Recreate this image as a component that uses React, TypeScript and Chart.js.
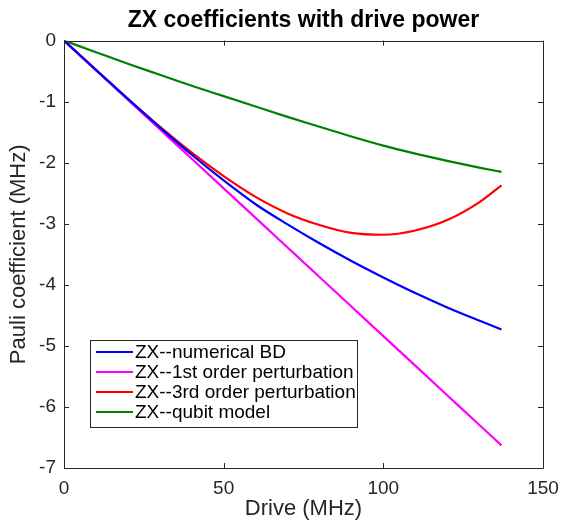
import React, { useEffect, useRef } from "react";
import { Chart, registerables } from "chart.js";

Chart.register(...registerables);

const drive = [0, 10, 20, 30, 40, 50, 60, 70, 80, 90, 100, 110, 120, 130, 137];
const numericalBD = [0, -0.48, -0.955, -1.42, -1.87, -2.29, -2.68, -3.01, -3.32, -3.61, -3.88, -4.135, -4.37, -4.585, -4.73];
const firstOrder = [0, -0.484, -0.968, -1.452, -1.936, -2.42, -2.904, -3.388, -3.872, -4.356, -4.84, -5.324, -5.808, -6.292, -6.63];
const thirdOrder = [0, -0.48, -0.955, -1.41, -1.835, -2.22, -2.56, -2.83, -3.02, -3.15, -3.18, -3.11, -2.94, -2.65, -2.37];
const qubitModel = [0, -0.19, -0.38, -0.56, -0.74, -0.91, -1.08, -1.25, -1.41, -1.57, -1.72, -1.85, -1.97, -2.08, -2.15];

const seriesLabels = [
  "ZX--numerical BD",
  "ZX--1st order perturbation",
  "ZX--3rd order perturbation",
  "ZX--qubit model",
];
const seriesColors = ["#0000ff", "#ff00ff", "#ff0000", "#008000"];
const xTicks = [0, 50, 100, 150];
const yTicks = [0, -1, -2, -3, -4, -5, -6, -7];

const FONT = "'Liberation Sans', Arial, Helvetica, sans-serif";
const AXIS = "#262626";

const boxAndLegend = {
  id: "boxAndLegend",
  afterDraw(chart: any) {
    const { ctx, chartArea } = chart;
    const { left, right, top, bottom } = chartArea;
    const xs = chart.scales.x;
    const ys = chart.scales.y;
    ctx.save();
    ctx.strokeStyle = AXIS;
    ctx.lineWidth = 1;
    ctx.beginPath();
    ctx.rect(Math.round(left) + 0.5, Math.round(top) + 0.5, Math.round(right - left), Math.round(bottom - top));
    ctx.stroke();
    const tl = 5;
    ctx.beginPath();
    for (const v of xTicks) {
      const px = Math.round(xs.getPixelForValue(v)) + 0.5;
      ctx.moveTo(px, bottom);
      ctx.lineTo(px, bottom - tl);
      ctx.moveTo(px, top);
      ctx.lineTo(px, top + tl);
    }
    for (const v of yTicks) {
      const py = Math.round(ys.getPixelForValue(v)) + 0.5;
      ctx.moveTo(left, py);
      ctx.lineTo(left + tl, py);
      ctx.moveTo(right, py);
      ctx.lineTo(right - tl, py);
    }
    ctx.stroke();

    // legend
    const lx = 90.5, ly = 340.5, lw = 267, lh = 87;
    ctx.fillStyle = "#ffffff";
    ctx.fillRect(lx, ly, lw, lh);
    ctx.strokeStyle = AXIS;
    ctx.strokeRect(lx, ly, lw, lh);
    ctx.font = `19px ${FONT}`;
    ctx.textBaseline = "middle";
    ctx.textAlign = "left";
    chart.data.datasets.forEach((ds: any, i: number) => {
      const cy = 352 + i * 20;
      ctx.strokeStyle = ds.borderColor;
      ctx.lineWidth = 2.2;
      ctx.beginPath();
      ctx.moveTo(96, cy);
      ctx.lineTo(133, cy);
      ctx.stroke();
      ctx.fillStyle = "#000000";
      ctx.fillText(ds.label, 135, cy + 1);
    });
    ctx.restore();
  },
};

export default function App() {
  const ref = useRef<HTMLCanvasElement>(null);
  useEffect(() => {
    if (!ref.current) return;
    const allSeries = [numericalBD, firstOrder, thirdOrder, qubitModel];
    const chart = new Chart(ref.current, {
      type: "line",
      data: {
        datasets: allSeries.map((arr, i) => ({
          label: seriesLabels[i],
          data: drive.map((d, j) => ({ x: d, y: arr[j] })),
          borderColor: seriesColors[i],
          backgroundColor: seriesColors[i],
          borderWidth: 2.2,
          pointRadius: 0,
          fill: false,
          cubicInterpolationMode: "monotone" as const,
        })),
      },
      options: {
        responsive: false,
        animation: false,
        layout: { padding: { left: 0, right: 19, top: 0, bottom: 0 } },
        plugins: {
          legend: { display: false },
          tooltip: { enabled: false },
          title: {
            display: true,
            fullSize: false,
            text: "ZX coefficients with drive power",
            color: "#000000",
            font: { family: FONT, size: 23, weight: "bold", lineHeight: 1.2 },
            padding: { top: 7, bottom: 6 },
          },
        },
        scales: {
          x: {
            type: "linear",
            min: 0,
            max: 150,
            afterFit: (s: any) => { s.height = 52; s.paddingLeft = 0; s.paddingRight = 0; },
            afterBuildTicks: (s: any) => { s.ticks = xTicks.map((v) => ({ value: v })); },
            grid: { display: false, drawTicks: false },
            border: { display: false },
            ticks: {
              color: AXIS,
              font: { family: FONT, size: 19 },
              padding: 9,
              maxRotation: 0,
            },
            title: {
              display: true,
              text: "Drive (MHz)",
              color: AXIS,
              font: { family: FONT, size: 22, lineHeight: 1 },
              padding: { top: 0, bottom: 0 },
            },
          },
          y: {
            type: "linear",
            min: -7,
            max: 0,
            afterFit: (s: any) => { s.width = 64; s.paddingTop = 0; s.paddingBottom = 0; },
            afterBuildTicks: (s: any) => { s.ticks = yTicks.slice().reverse().map((v) => ({ value: v })); },
            grid: { display: false, drawTicks: false },
            border: { display: false },
            ticks: {
              color: AXIS,
              font: { family: FONT, size: 19 },
              padding: 8,
            },
            title: {
              display: true,
              text: "Pauli coefficient (MHz)",
              color: AXIS,
              font: { family: FONT, size: 22, lineHeight: 1 },
              padding: { top: 8, bottom: 0 },
            },
          },
        },
      },
      plugins: [boxAndLegend],
    });
    return () => chart.destroy();
  }, []);
  return (
    <div style={{ position: "fixed", left: 0, top: 0, width: 562, height: 520, background: "#fff" }}>
      <canvas ref={ref} width={562} height={520} />
    </div>
  );
}
